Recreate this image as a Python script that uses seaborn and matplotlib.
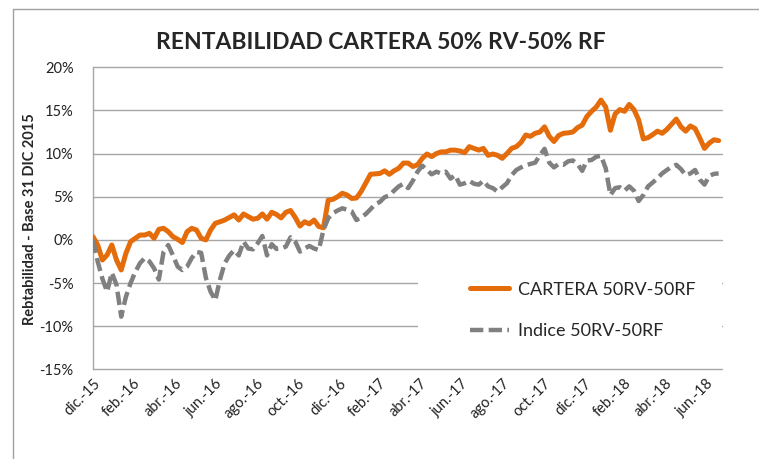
import pandas as pd
import matplotlib.pyplot as plt
import matplotlib.ticker as mticker
from matplotlib.lines import Line2D
from matplotlib.patches import Rectangle
import seaborn as sns

# Rentabilidad semanal (%), base 31-dic-2015
cartera = [
    0.37, -0.59, -2.33, -1.75, -0.59, -2.33, -3.49, -1.56, -0.2, 0.18,
    0.56, 0.56, 0.76, 0.18, 1.22, 1.34, 0.95, 0.37, 0.07, -0.31,
    0.95, 1.34, 1.14, 0.18, 0.0, 1.14, 1.92, 2.1, 2.3, 2.6,
    2.9, 2.3, 3.0, 2.7, 2.4, 2.5, 3.0, 2.4, 3.2, 2.95,
    2.55, 3.2, 3.4, 2.6, 1.6, 2.1, 1.85, 2.3, 1.55, 1.4,
    4.6, 4.7, 5.0, 5.4, 5.2, 4.8, 4.85, 5.6, 6.6, 7.6,
    7.65, 7.7, 8.0, 7.6, 8.0, 8.3, 8.9, 8.9, 8.5, 8.7,
    9.45, 9.95, 9.65, 10.0, 10.2, 10.2, 10.4, 10.4, 10.3, 10.1,
    10.8, 10.6, 10.4, 10.6, 9.8, 9.95, 9.8, 9.45, 10.0, 10.6,
    10.8, 11.3, 12.15, 12.0, 12.35, 12.5, 13.1, 12.0, 11.4, 12.1,
    12.35, 12.4, 12.5, 13.0, 13.3, 14.3, 14.9, 15.4, 16.2, 15.4,
    12.7, 14.6, 15.1, 14.9, 15.7, 15.1, 13.9, 11.7, 11.85, 12.2,
    12.6, 12.35, 12.8, 13.4, 14.0, 13.1, 12.6, 13.2, 12.9, 11.8,
    10.6, 11.2, 11.6, 11.5,
]

indice = [
    0.0, -2.5, -4.5, -6.0, -3.8, -5.2, -8.9, -6.6, -5.0, -3.7,
    -2.7, -2.1, -2.5, -3.3, -4.6, -1.4, -0.6, -1.8, -3.1, -3.5,
    -3.1, -2.1, -1.4, -1.5, -4.4, -6.0, -7.0, -4.6, -2.7, -1.8,
    -1.2, -1.8, -0.2, -1.0, -1.1, -0.4, 0.45, -1.8, -0.5, -1.05,
    -0.98, -0.78, 0.3, -0.2, -1.36, -1.0, -0.7, -1.0, -1.17, 1.15,
    2.5, 3.1, 3.4, 3.66, 3.5, 3.3, 2.3, 2.6, 3.0, 3.55,
    4.15, 4.4, 4.95, 5.15, 5.7, 6.2, 6.5, 6.0, 6.85, 7.9,
    8.6, 8.1, 7.6, 7.9, 7.7, 7.9, 7.1, 7.5, 6.4, 6.56,
    6.85, 6.5, 6.4, 6.85, 6.2, 6.0, 5.6, 6.1, 6.56, 7.5,
    8.1, 8.4, 8.65, 8.8, 8.95, 9.8, 10.55, 8.95, 8.4, 8.8,
    8.7, 9.1, 9.2, 8.8, 8.0, 9.2, 9.26, 9.64, 9.75, 8.3,
    5.2, 6.0, 6.1, 5.7, 6.2, 5.7, 4.5, 5.2, 6.2, 6.65,
    7.14, 7.7, 8.1, 8.45, 8.7, 8.2, 7.5, 7.7, 8.1, 7.0,
    6.4, 7.4, 7.65, 7.7,
]

fechas = pd.date_range('2015-12-31', periods=len(cartera), freq='7D')

tick_dates = ['2015-12-31', '2016-02-29', '2016-04-30', '2016-06-30',
              '2016-08-31', '2016-10-31', '2016-12-31', '2017-02-28',
              '2017-04-30', '2017-06-30', '2017-08-31', '2017-10-31',
              '2017-12-31', '2018-02-28', '2018-04-30', '2018-06-30']
tick_labels = ['dic.-15', 'feb.-16', 'abr.-16', 'jun.-16', 'ago.-16', 'oct.-16',
               'dic.-16', 'feb.-17', 'abr.-17', 'jun.-17', 'ago.-17', 'oct.-17',
               'dic.-17', 'feb.-18', 'abr.-18', 'jun.-18']
y_ticks = [-15, -10, -5, 0, 5, 10, 15, 20]

NARANJA = '#E46C0A'
GRIS = '#808080'

sns.set_style('white')
plt.rcParams['font.family'] = ['Lato', 'DejaVu Sans']

fig = plt.figure(figsize=(7.59, 4.59), dpi=100)
ax = fig.add_axes([0.1225, 0.1954, 0.8287, 0.658])

sns.lineplot(x=fechas, y=cartera, color=NARANJA, linewidth=3.6,
             label='CARTERA 50RV-50RF', ax=ax, zorder=3)
sns.lineplot(x=fechas, y=indice, color=GRIS, linewidth=3.2,
             label='Indice 50RV-50RF', ax=ax, zorder=3)
ax.lines[1].set_dashes((3, 1.2))

ax.set_xlim(pd.Timestamp('2015-12-31'), pd.Timestamp('2018-07-24'))
ax.set_ylim(-15, 20)
ax.set_yticks(y_ticks)
ax.yaxis.set_major_formatter(mticker.FuncFormatter(lambda v, p: f'{v:.0f}%'))
ax.set_xticks(pd.to_datetime(tick_dates))
ax.set_xticklabels(tick_labels, rotation=45, ha='right', rotation_mode='anchor')
ax.tick_params(axis='both', length=0, labelsize=10.5, colors='#222222')
ax.tick_params(axis='y', pad=14)
ax.tick_params(axis='x', pad=5)

ax.set_axisbelow(True)
ax.grid(axis='y', color='#A6A6A6', linewidth=1)
ax.grid(axis='x', visible=False)
for gl in ax.get_ygridlines():
    gl.set_clip_on(False)
for s in ['top', 'right', 'bottom']:
    ax.spines[s].set_visible(False)
ax.spines['left'].set_color('#A6A6A6')
ax.spines['left'].set_linewidth(1)
ax.set_xlabel('')
ax.set_ylabel('')

# zona blanca de la leyenda
ax.add_patch(Rectangle((0.517, 0.024), 0.483, 0.355, transform=ax.transAxes,
                       facecolor='white', edgecolor='none', zorder=1))
ax.legend(loc='upper left', bbox_to_anchor=(0.599, 0.29), frameon=False,
          fontsize=13, borderpad=0, borderaxespad=0, handlelength=2.2,
          handletextpad=0.5, labelspacing=1.4)

fig.text(0.502, 0.908, 'RENTABILIDAD CARTERA 50% RV-50% RF', ha='center',
         va='center', fontsize=16.5, fontweight='bold')
fig.text(0.0395, 0.523, 'Rebtabilidad - Base 31 DIC 2015', rotation=90,
         ha='center', va='center', fontsize=10.5, fontweight='bold')

# marco del grafico (solo borde superior e izquierdo visibles)
fig.add_artist(Line2D([0.0171, 0.0171], [0.0, 0.980], color='#A0A0A0', lw=1))
fig.add_artist(Line2D([0.0171, 1.0], [0.980, 0.980], color='#A0A0A0', lw=1))

fig.savefig('out.png', dpi=100)
